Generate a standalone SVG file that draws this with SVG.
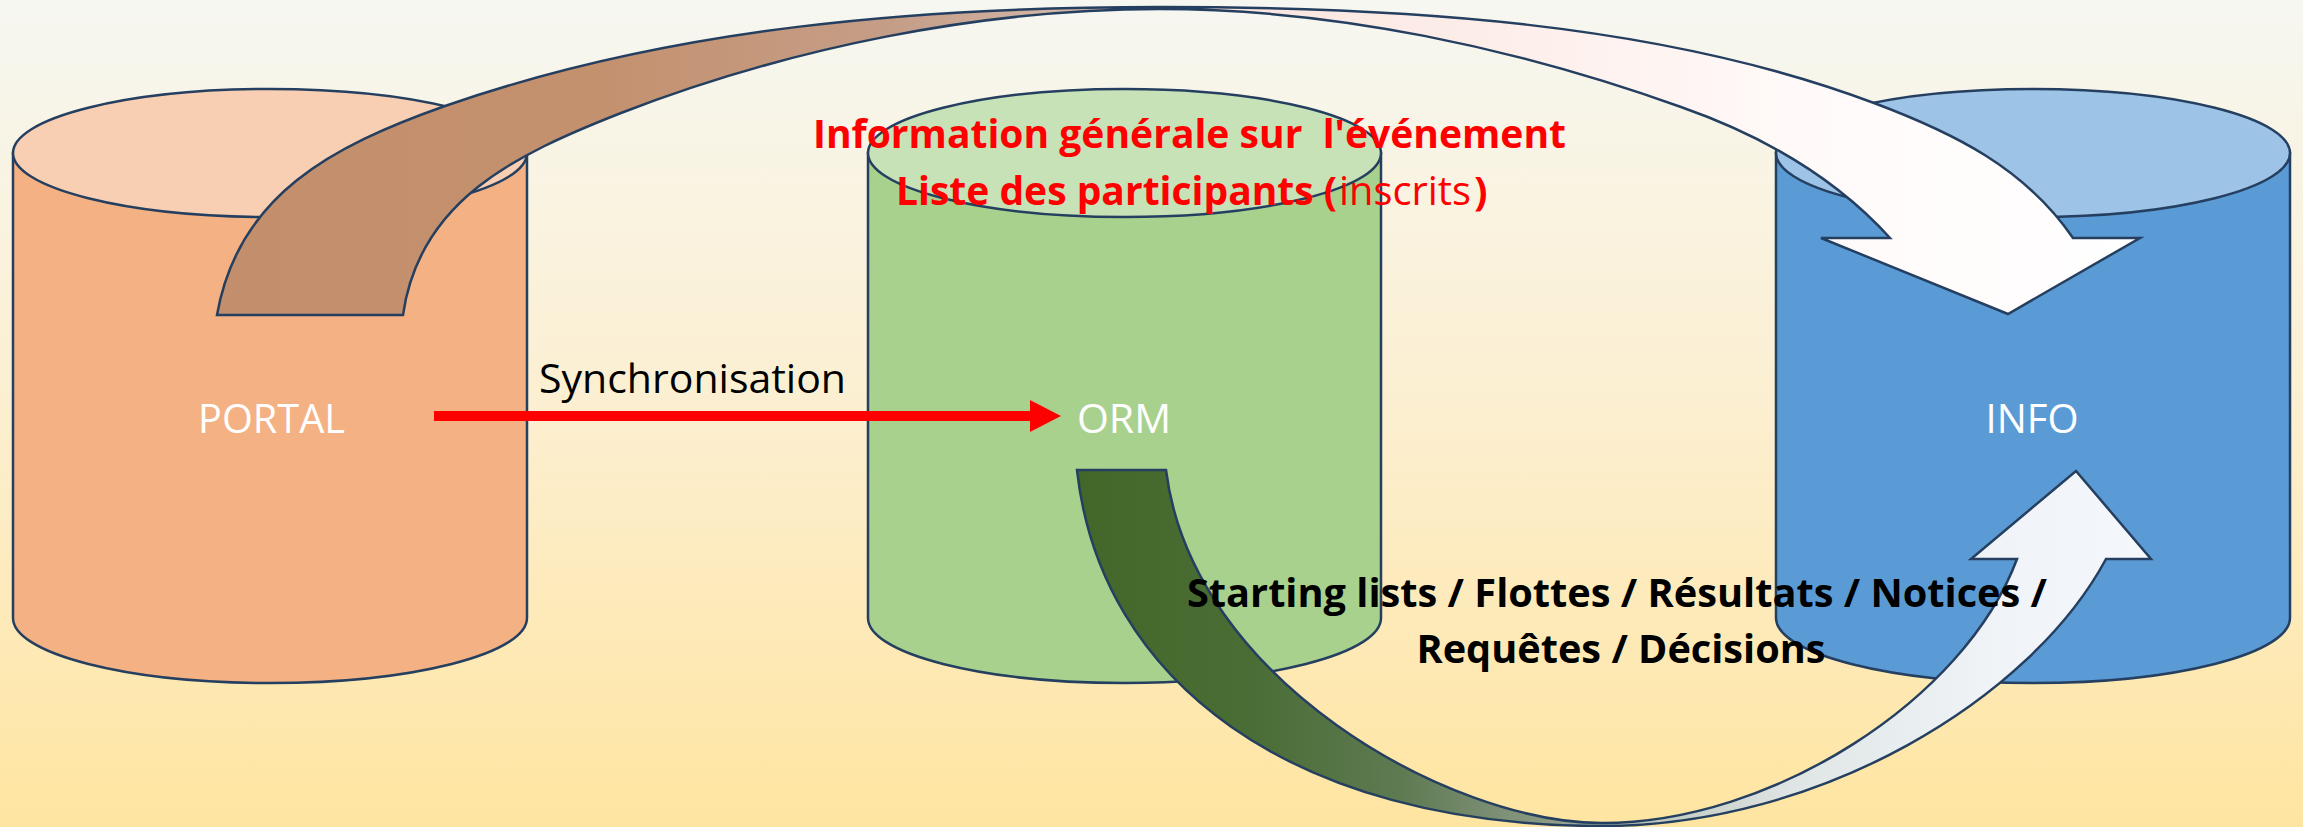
<svg xmlns="http://www.w3.org/2000/svg" width="2303" height="827" viewBox="0 0 2303 827">
<defs>
<linearGradient id="bg" x1="0" y1="0" x2="0" y2="1">
<stop offset="0" stop-color="#F6F7F1"/>
<stop offset="0.5" stop-color="#FCEFD0"/>
<stop offset="1" stop-color="#FFE5A1"/>
</linearGradient>
<linearGradient id="gTop" gradientUnits="userSpaceOnUse" x1="217" y1="0" x2="2140" y2="0">
<stop offset="0" stop-color="#C38E6C"/>
<stop offset="0.2" stop-color="#C4916F"/>
<stop offset="0.355" stop-color="#C59E88"/>
<stop offset="0.46" stop-color="#D6BCAE"/>
<stop offset="0.51" stop-color="#F9E4DD"/>
<stop offset="0.667" stop-color="#FDEEEA"/>
<stop offset="0.823" stop-color="#FFFAF9"/>
<stop offset="1" stop-color="#FFFFFF"/>
</linearGradient>
<linearGradient id="gBot" gradientUnits="userSpaceOnUse" x1="1077" y1="0" x2="2151" y2="0">
<stop offset="0" stop-color="#436729"/>
<stop offset="0.161" stop-color="#4A6D35"/>
<stop offset="0.301" stop-color="#5E7A52"/>
<stop offset="0.44" stop-color="#8C9A86"/>
<stop offset="0.534" stop-color="#BFC8BE"/>
<stop offset="0.673" stop-color="#E0E6E6"/>
<stop offset="0.86" stop-color="#F0F4F8"/>
<stop offset="1" stop-color="#F4F8FC"/>
</linearGradient>
<style>
.edge{stroke:#253F60;stroke-width:2.5;stroke-linejoin:miter}
.lbl{font-family:"Open Sans","Liberation Sans",sans-serif;font-size:40px;fill:#FFFFFF;text-anchor:middle}
.red{font-family:"Open Sans","Liberation Sans",sans-serif;font-size:40px;fill:#FF0000}
.blk{font-family:"Open Sans","Liberation Sans",sans-serif;font-size:40px;fill:#000000}
</style>
</defs>
<rect x="0" y="0" width="2303" height="827" fill="url(#bg)"/>

<g id="node-portal">
<path class="edge" d="M13,153 V618 A257,65 0 0 0 527,618 V153 Z" fill="#F4B183"/>
<ellipse class="edge" cx="270" cy="153" rx="257" ry="64" fill="#F8CFB2"/>
<text class="lbl" x="271.5" y="433" textLength="147" lengthAdjust="spacingAndGlyphs">PORTAL</text>
</g>

<g id="node-orm">
<path class="edge" d="M868,153 V618 A256.5,65 0 0 0 1381,618 V153 Z" fill="#A9D18E"/>
<ellipse class="edge" cx="1124.5" cy="153" rx="256.5" ry="64" fill="#C8E2B8"/>
<text class="lbl" x="1124" y="433" textLength="94" lengthAdjust="spacingAndGlyphs">ORM</text>
</g>

<g id="node-info">
<path class="edge" d="M1776,153 V618 A257,65 0 0 0 2290,618 V153 Z" fill="#5B9BD5"/>
<ellipse class="edge" cx="2033" cy="153" rx="257" ry="64" fill="#9DC3E6"/>
<text class="lbl" x="2032" y="433" textLength="93" lengthAdjust="spacingAndGlyphs">INFO</text>
</g>

<g id="connectors">
<g id="sync">
<path d="M434,416 H1031" stroke="#FF0000" stroke-width="10" fill="none"/>
<polygon points="1030,400 1061,416 1030,432" fill="#FF0000"/>
<text class="blk" x="539" y="393" textLength="307" lengthAdjust="spacingAndGlyphs">Synchronisation</text>
</g>
<g id="portal-to-info">
<path class="edge" fill="url(#gTop)" d="M217,315 C238,195 332,146 445,106 C672,27 920,7 1160,7 C1400,7 1659,22 1874,103 C1954,133 2025,168 2073,238 L2140,238 L2008,314 L1821,238 L1890,238 C1833,175 1761,135 1681,107 C1516,48 1335,9 1160,9 C980,9 789,48 621,113 C514,155 419,201 403,315 Z"/>
<text class="red" font-weight="bold" x="813" y="148" textLength="753" lengthAdjust="spacingAndGlyphs" xml:space="preserve">Information générale sur  l'événement</text>
<text class="red" y="205"><tspan x="896" font-weight="bold" textLength="441" lengthAdjust="spacingAndGlyphs">Liste des participants (</tspan><tspan x="1339" textLength="132" lengthAdjust="spacingAndGlyphs">inscrits</tspan><tspan x="1474" font-weight="bold">)</tspan></text>
</g>
<g id="orm-to-info">
<path class="edge" fill="url(#gBot)" d="M1077,470 C1100,680 1290,826 1602,826 C1820,826 2030,700 2106,559 L2151,559 L2076,471 L1971,559 L2017,559 C1964.5,700 1772,823 1602,823 C1450,823 1192,680 1166,470 Z"/>
<text class="blk" font-weight="bold" text-anchor="middle" x="1617" y="607" textLength="860" lengthAdjust="spacingAndGlyphs">Starting lists / Flottes / Résultats / Notices /</text>
<text class="blk" font-weight="bold" text-anchor="middle" x="1621" y="663" textLength="409" lengthAdjust="spacingAndGlyphs">Requêtes / Décisions</text>
</g>
</g>
</svg>
